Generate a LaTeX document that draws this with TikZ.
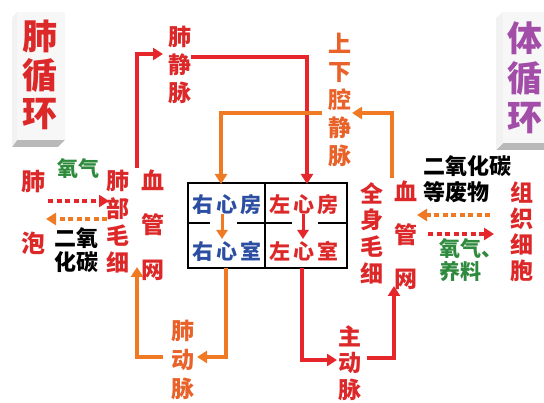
\documentclass[tikz,border=0pt]{standalone}
\usepackage{fontspec}
\setmainfont{Noto Sans CJK SC}
\usetikzlibrary{arrows.meta}
\definecolor{ared}{HTML}{E5262A}
\definecolor{aora}{HTML}{F07A24}
\definecolor{tred}{HTML}{DC2828}
\definecolor{tora}{HTML}{E8622A}
\definecolor{tblue}{HTML}{2B4EA2}
\definecolor{tgreen}{HTML}{2E8A3C}
\definecolor{tpurple}{HTML}{A24EA8}
\newcommand\myfs[2]{\fontsize{#1}{#2}\selectfont\bfseries}
\begin{document}
\begin{tikzpicture}[x=1pt,y=-1pt,
  tip/.style={-{Triangle[width=12pt,length=10pt]}},
  redline/.style={draw=ared,line width=3.4pt,tip},
  oraline/.style={draw=aora,line width=3.4pt,tip},
  dotred/.style={draw=ared,line width=4.5pt,dash pattern=on 5pt off 3.5pt,tip},
  dotora/.style={draw=aora,line width=4.5pt,dash pattern=on 5pt off 3.5pt,tip},
  lab/.style={inner sep=0pt,align=center},
  heart/.style={inner sep=0pt,font=\myfs{21}{21}}]
\useasboundingbox (0,0) rectangle (544,403);
\fill[white] (0,0) rectangle (544,403);

% ---- 3D boxes
\fill[gray!55] (12,147) -- (58,147) -- (65,140) -- (17,140) -- cycle;
\fill[gray!10] (12,18) -- (17,12) -- (17,140) -- (12,147) -- cycle;
\fill[gray!6] (17,12) rectangle (65,140);
\node[lab,text=tred,font=\myfs{35}{38.5}] (lbox) at (40,75) {肺\\循\\环};

\fill[gray!55] (496,150) -- (544,150) -- (544,143) -- (503,143) -- cycle;
\fill[gray!10] (496,18) -- (503,12) -- (503,143) -- (496,150) -- cycle;
\fill[gray!6] (503,12) rectangle (544,143);
\node[lab,text=tpurple,font=\myfs{35}{39.5}] (rbox) at (525,78) {体\\循\\环};

% ---- heart
\draw[line width=2pt] (188,183) rectangle (347,268);
\draw[line width=2pt] (265,183) -- (265,268);
\draw[line width=2pt] (188,223) -- (210,223) (237,223) -- (292,223) (318,223) -- (347,223);
\node[heart,text=tblue] (ra) at (227,205) {右\hspace{3pt}心\hspace{3pt}房};
\node[heart,text=tred] (la) at (304,205) {左\hspace{3pt}心\hspace{3pt}房};
\node[heart,text=tblue] (rv) at (227,251) {右\hspace{3pt}心\hspace{3pt}室};
\node[heart,text=tred] (lv) at (304,251) {左\hspace{3pt}心\hspace{3pt}室};
\draw[draw=aora,line width=3pt,-{Triangle[width=11pt,length=9pt]}] (222,214) -- (222,239);
\draw[draw=ared,line width=3pt,-{Triangle[width=11pt,length=9pt]}] (303,214) -- (303,239);

% ---- labels
\node[lab,text=tred,font=\myfs{23}{28}] (pv) at (180,65) {肺\\静\\脉};
\node[lab,text=tora,font=\myfs{23}{28.2}] (vc) at (340,100) {上\\下\\腔\\静\\脉};
\node[lab,text=tora,font=\myfs{23}{29}] (pa) at (183,360) {肺\\动\\脉};
\node[lab,text=tred,font=\myfs{23}{26.5}] (ao) at (350,363) {主\\动\\脉};
\node[lab,text=tred,font=\myfs{23}{27.3}] (lcap) at (118,222) {肺\\部\\毛\\细};
\node[lab,text=tred,font=\myfs{23}{44.5}] (lnet) at (153,225) {血\\管\\网};
\node[lab,text=tred,font=\myfs{23}{26.7}] (bcap) at (372,233) {全\\身\\毛\\细};
\node[lab,text=tred,font=\myfs{23}{43.5}] (rnet) at (406,235) {血\\管\\网};
\node[lab,text=tred,font=\myfs{23}{26}] (cell) at (522,232) {组\\织\\细\\胞};
\node[lab,text=tred,font=\myfs{24}{62}] (alv) at (33,212) {肺\\泡};
\node[lab,text=tgreen,font=\myfs{21}{22}] (o2l) at (78,168) {氧气};
\node[lab,text=black,font=\myfs{22}{24}] (co2l) at (76,250) {二氧\\化碳};
\node[lab,text=black,font=\myfs{22}{26},align=left,anchor=west] (co2r) at (423,179) {二氧化碳\\等废物};
\node[lab,text=tgreen,font=\myfs{21}{22.5},align=left,anchor=west] (o2r) at (439,260) {氧气、\\养料};

% ---- connectors
\coordinate (lcapTop) at (137,168);
\coordinate (pvIn) at (163,54);
\draw[redline] (lcapTop) |- (pvIn);
\coordinate (pvOut) at (191,57);
\coordinate (laTop) at (307,184);
\draw[redline] (pvOut) -| (laTop);
\coordinate (vcOut) at (322,113);
\coordinate (raTop) at (221,184);
\draw[oraline] (vcOut) -| (raTop);
\coordinate (bcapTop) at (392,178);
\coordinate (vcIn) at (352,113);
\draw[oraline] (bcapTop) |- (vcIn);
\coordinate (rvBot) at (226,268);
\coordinate (paIn) at (197,357);
\draw[oraline] (rvBot) |- (paIn);
\coordinate (paOut) at (163,357);
\coordinate (lcapBot) at (137,267);
\draw[oraline] (paOut) -| (lcapBot);
\coordinate (lvBot) at (302,268);
\coordinate (aoIn) at (337,360);
\draw[redline] (lvBot) |- (aoIn);
\coordinate (aoOut) at (367,358);
\coordinate (bcapBot) at (394,286);
\draw[redline] (aoOut) -| (bcapBot);

% dotted exchange arrows
\coordinate (a1) at (48,201); \coordinate (a2) at (109,201);
\draw[dotred] (a1) -- (a2);
\coordinate (a3) at (107,219); \coordinate (a4) at (46,219);
\draw[dotora] (a3) -- (a4);
\coordinate (b1) at (490,215); \coordinate (b2) at (417,215);
\draw[dotora] (b1) -- (b2);
\coordinate (b3) at (428,234); \coordinate (b4) at (494,234);
\draw[dotred] (b3) -- (b4);
\end{tikzpicture}
\end{document}
